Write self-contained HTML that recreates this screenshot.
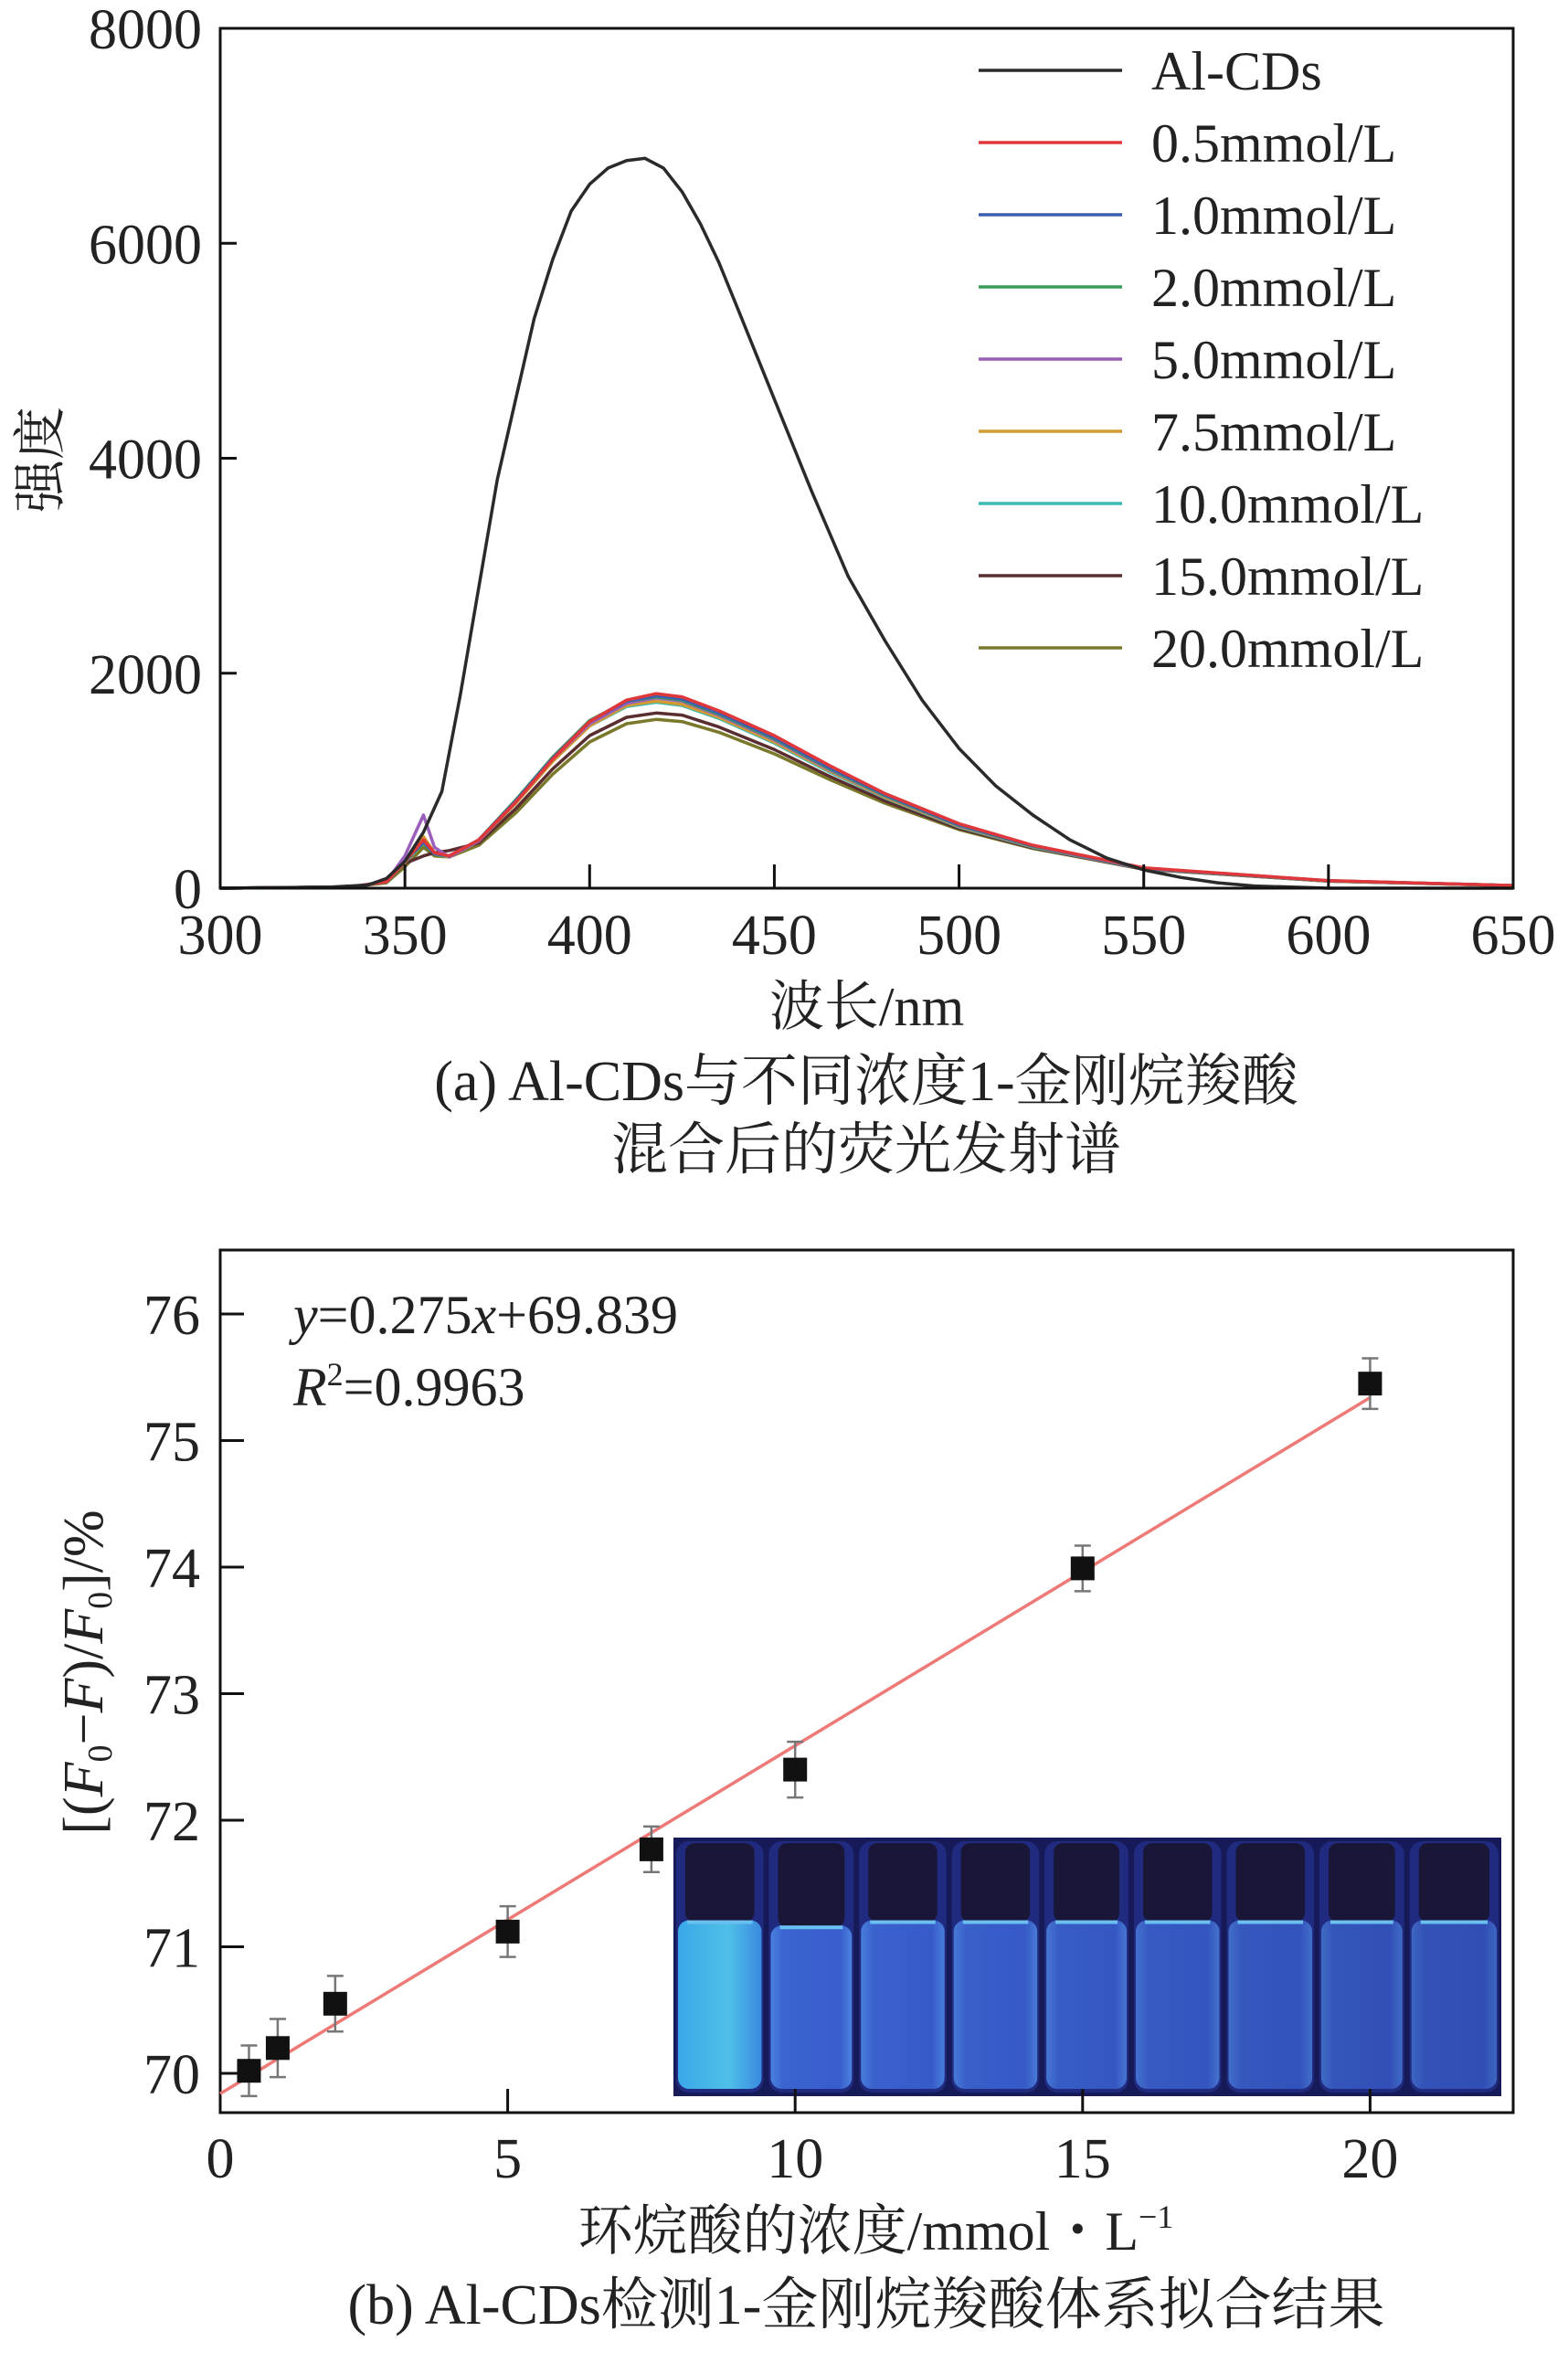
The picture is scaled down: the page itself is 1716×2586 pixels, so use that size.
<!DOCTYPE html>
<html><head><meta charset="utf-8">
<style>
html,body{margin:0;padding:0;background:#fff;}
svg{display:block;}
text{font-family:"Liberation Serif","Noto Serif CJK SC","Noto Sans CJK SC",serif;fill:#222;}
</style></head>
<body>
<svg id="svg" width="1716" height="2586" viewBox="0 0 1716 2586" xmlns="http://www.w3.org/2000/svg">
<defs>
<linearGradient id="vialA" x1="0" x2="1" y1="0" y2="0">
<stop offset="0" stop-color="#3aa8e8"/><stop offset="0.6" stop-color="#4fc0e8"/><stop offset="1" stop-color="#3a8ae0"/>
</linearGradient>
<linearGradient id="vialB" x1="0" x2="1" y1="0" y2="0">
<stop offset="0" stop-color="#4f8ae8"/><stop offset="0.15" stop-color="#3e6ad8"/><stop offset="0.85" stop-color="#3a62d4"/><stop offset="1" stop-color="#4f8ae8"/>
</linearGradient>
</defs>
<g id="top"></g>
<g id="bot"></g>
</svg>
<script>
// ---------- Chart (a) data ----------
const wavelengths = [300,335,345,350,355,358,362,370,380,390,400,410,418,425,435,450,465,480,500,520,550,600,650];
const seriesNames = ["Al-CDs","0.5mmol/L","1.0mmol/L","2.0mmol/L","5.0mmol/L","7.5mmol/L","10.0mmol/L","15.0mmol/L","20.0mmol/L"];
const blankWl = [300,330,340,345,350,355,360,365,370,375,380,385,390,395,400,405,410,415,420,425,430,435,440,450,460,470,480,490,500,510,520,530,540,550,560,570,580,600,650];
const blankVals = [0,10,30,90,250,520,900,1800,2800,3800,4550,5300,5850,6300,6550,6700,6770,6790,6700,6480,6180,5820,5400,4550,3700,2900,2300,1750,1300,950,680,450,280,170,100,50,20,0,0];
const s05 = [0,10,60,250,450,330,300,450,800,1200,1550,1750,1810,1780,1650,1420,1140,880,600,400,190,70,25];
const s10 = [0,10,60,250,430,320,300,450,810,1210,1550,1740,1790,1760,1630,1400,1120,870,590,395,185,70,25];
const s20 = [0,10,60,250,420,320,300,450,820,1220,1560,1740,1780,1750,1620,1390,1110,860,585,390,185,68,24];
const s50 = [0,10,60,300,680,380,290,440,800,1200,1530,1720,1770,1740,1610,1380,1100,855,580,388,183,68,24];
const s75 = [0,10,60,240,480,330,290,440,790,1180,1510,1700,1740,1710,1590,1360,1090,845,575,385,182,67,24];
const s100 = [0,10,60,240,440,320,290,440,800,1190,1510,1690,1730,1700,1580,1350,1080,840,570,382,180,67,24];
const s150 = [0,10,60,230,300,330,350,420,740,1110,1420,1590,1630,1610,1500,1290,1040,810,555,375,178,66,24];
const s200 = [0,10,50,200,380,300,290,400,700,1060,1360,1530,1570,1550,1450,1250,1010,790,545,370,176,66,24];
const xTicksA = [300,350,400,450,500,550,600,650];
const yTicksA = [0,2000,4000,6000,8000];

// ---------- Chart (b) data ----------
const conc = [0.5,1,2,5,7.5,10,15,20];
const ratio = [70.02,70.2,70.55,71.12,71.77,72.4,73.99,75.45];
const errs = [0.2,0.23,0.22,0.2,0.18,0.22,0.18,0.2];
const fitSlope = 0.275, fitIntercept = 69.839;
const xTicksB = [0,5,10,15,20];
const yTicksB = [70,71,72,73,74,75,76];

const NS = "http://www.w3.org/2000/svg";
function mk(tag, attrs, parent){const e=document.createElementNS(NS,tag);for(const k in attrs)e.setAttribute(k,attrs[k]);parent.appendChild(e);return e;}

// ---- chart (a) ----
const A = {l:241,r:1656,t:31,b:972};
const xA = v => A.l + (v-300)/350*(A.r-A.l);
const yA = v => A.b - v/8000*(A.b-A.t);
const gA = document.getElementById('top');
const colors = ["#2a2a2a","#e0383a","#3a5fb0","#3a9a5a","#9a5fba","#d19a32","#3ab8b2","#5a2e30","#7a782a"];
const sets = [s05,s10,s20,s50,s75,s100,s150,s200];
for(let i=sets.length-1;i>=0;i--){
  const d = wavelengths.map((w,j)=>(j?'L':'M')+xA(w).toFixed(1)+','+yA(sets[i][j]).toFixed(1)).join(' ');
  const p = mk('path',{d:d,fill:'none',stroke:colors[i+1],'stroke-width':3.5,'stroke-linejoin':'round'},gA);
  
  
}
{
  const d = blankWl.map((w,j)=>(j?'L':'M')+xA(w).toFixed(1)+','+yA(blankVals[j]).toFixed(1)).join(' ');
  const p = mk('path',{d:d,fill:'none',stroke:colors[0],'stroke-width':3.5,'stroke-linejoin':'round'},gA);
  
  
}
{
  const f = mk('rect',{x:A.l,y:A.t,width:A.r-A.l,height:A.b-A.t,fill:'none',stroke:'#111','stroke-width':3},gA);
  
  
}
xTicksA.forEach(v=>{
  const t = mk('line',{x1:xA(v),x2:xA(v),y1:A.b,y2:A.b-26,stroke:'#111','stroke-width':3},gA);
  
  
  const tx = mk('text',{x:xA(v),y:1044,'font-size':62,'text-anchor':'middle'},gA);
  tx.textContent = v;
  
  
});
yTicksA.forEach(v=>{
  const t = mk('line',{x1:A.l,x2:A.l+18,y1:yA(v),y2:yA(v),stroke:'#111','stroke-width':3},gA);
  
  
  const tx = mk('text',{x:A.l-20,y:yA(v)+22,'font-size':62,'text-anchor':'end'},gA);
  tx.textContent = v;
  
  
});
seriesNames.forEach((n,i)=>{
  const y = 77 + i*79;
  const ln = mk('line',{x1:1071,x2:1228,y1:y,y2:y,stroke:colors[i],'stroke-width':3.5},gA);
  
  
  const tx = mk('text',{x:1260,y:y+21,'font-size':60},gA);
  tx.textContent = n;
  
  
});
{
  const t1 = mk('text',{x:(A.l+A.r)/2,y:1122,'font-size':60,'text-anchor':'middle'},gA);
  t1.textContent = '波长/nm';
  
  
  const t2 = mk('text',{x:0,y:0,'font-size':58,'text-anchor':'middle',transform:'translate(64,503) rotate(-90)'},gA);
  t2.textContent = '强度';
  
  
  const c1 = mk('text',{x:948,y:1204,'font-size':62,'text-anchor':'middle'},gA);
  c1.textContent = '(a) Al-CDs与不同浓度1-金刚烷羧酸';
  
  
  const c2 = mk('text',{x:948,y:1279,'font-size':62,'text-anchor':'middle'},gA);
  c2.textContent = '混合后的荧光发射谱';
  
  
}

// ---- chart (b) ----
const B = {l:241,r:1656,t:1368,b:2312};
const xB = v => B.l + v/5*314.6;
const yB = v => 2269 - (v-70)*138.5;
const gB = document.getElementById('bot');
{
  const ix=737, iy=2011, iw=906, ih=283;
  const ins = mk('g',{},gB);
  
  
  mk('rect',{x:ix,y:iy,width:iw,height:ih,fill:'#161a58'},ins);
  const bounds=[0,0.112,0.221,0.333,0.445,0.553,0.665,0.777,0.886,1];
  for(let i=0;i<9;i++){
    const x0=ix+bounds[i]*iw+3, x1=ix+bounds[i+1]*iw-3;
    const lvl = iy + (i==0?0.32:(i==1?0.34:0.32))*ih;
    const v = mk('g',{},ins);
    
    
    mk('rect',{x:x0,y:iy+4,width:x1-x0,height:ih-8,rx:14,fill:'#2a3aa0',opacity:0.55},v);
    mk('rect',{x:x0+10,y:iy+6,width:x1-x0-20,height:lvl-iy-4,rx:10,fill:'#1a1638'},v);
    mk('rect',{x:x0+2,y:lvl,width:x1-x0-4,height:iy+ih-lvl-8,rx:12,fill:i==0?'url(#vialA)':'url(#vialB)',opacity:i==0?1:(0.95-i*0.04)},v);
    mk('line',{x1:x0+12,x2:x1-12,y1:lvl+2,y2:lvl+2,stroke:'#6ac0f0','stroke-width':4},v);
  }
}
{
  const f = mk('rect',{x:B.l,y:B.t,width:B.r-B.l,height:B.b-B.t,fill:'none',stroke:'#111','stroke-width':3},gB);
  
  
}
xTicksB.forEach(v=>{
  const t = mk('line',{x1:xB(v),x2:xB(v),y1:B.b,y2:B.b-26,stroke:'#111','stroke-width':3},gB);
  
  
  const tx = mk('text',{x:xB(v),y:2383,'font-size':62,'text-anchor':'middle'},gB);
  tx.textContent = v;
  
  
});
yTicksB.forEach(v=>{
  const t = mk('line',{x1:B.l,x2:B.l+26,y1:yB(v),y2:yB(v),stroke:'#111','stroke-width':3},gB);
  
  
  const tx = mk('text',{x:B.l-22,y:yB(v)+22,'font-size':62,'text-anchor':'end'},gB);
  tx.textContent = v;
  
  
});
{
  const x0=0, x1=20;
  const fl = mk('line',{x1:xB(x0),y1:yB(fitIntercept+fitSlope*x0),x2:xB(x1),y2:yB(fitIntercept+fitSlope*x1),stroke:'#ee7a78','stroke-width':3.5},gB);
  
  
}
conc.forEach((c,i)=>{
  const cx=xB(c), cy=yB(ratio[i]), yt=yB(ratio[i]+errs[i]), yb=yB(ratio[i]-errs[i]);
  const eb = mk('path',{d:`M${cx},${yt}L${cx},${yb}M${cx-9},${yt}L${cx+9},${yt}M${cx-9},${yb}L${cx+9},${yb}`,stroke:'#777','stroke-width':2.5,fill:'none'},gB);
  
  
  const pt = mk('rect',{x:cx-13,y:cy-13,width:26,height:26,fill:'#111'},gB);
  
  
});
{
  const eq = mk('text',{x:321,y:1459,'font-size':60},gB);
  eq.innerHTML = '<tspan font-style="italic">y</tspan>=0.275<tspan font-style="italic">x</tspan>+69.839';
  
  
  const r2 = mk('text',{x:321,y:1538,'font-size':60},gB);
  r2.innerHTML = '<tspan font-style="italic">R</tspan><tspan font-size="36" dy="-22">2</tspan><tspan dy="22">=0.9963</tspan>';
  
  
  const xt = mk('text',{x:(B.l+B.r)/2+10,y:2462,'font-size':60,'text-anchor':'middle'},gB);
  xt.innerHTML = '环烷酸的浓度/mmol・L<tspan font-size="36" dy="-24">−1</tspan>';
  
  
  const yt = mk('text',{x:0,y:0,'font-size':62,'text-anchor':'middle',transform:'translate(112,1830) rotate(-90)'},gB);
  yt.innerHTML = '[(<tspan font-style="italic">F</tspan><tspan font-size="38" dy="10">0</tspan><tspan dy="-10">−</tspan><tspan font-style="italic">F</tspan>)/<tspan font-style="italic">F</tspan><tspan font-size="38" dy="10">0</tspan><tspan dy="-10">]/%</tspan>';
  
  
  const cb = mk('text',{x:948,y:2543,'font-size':62,'text-anchor':'middle'},gB);
  cb.textContent = '(b) Al-CDs检测1-金刚烷羧酸体系拟合结果';
  
  
}
</script>
</body></html>
